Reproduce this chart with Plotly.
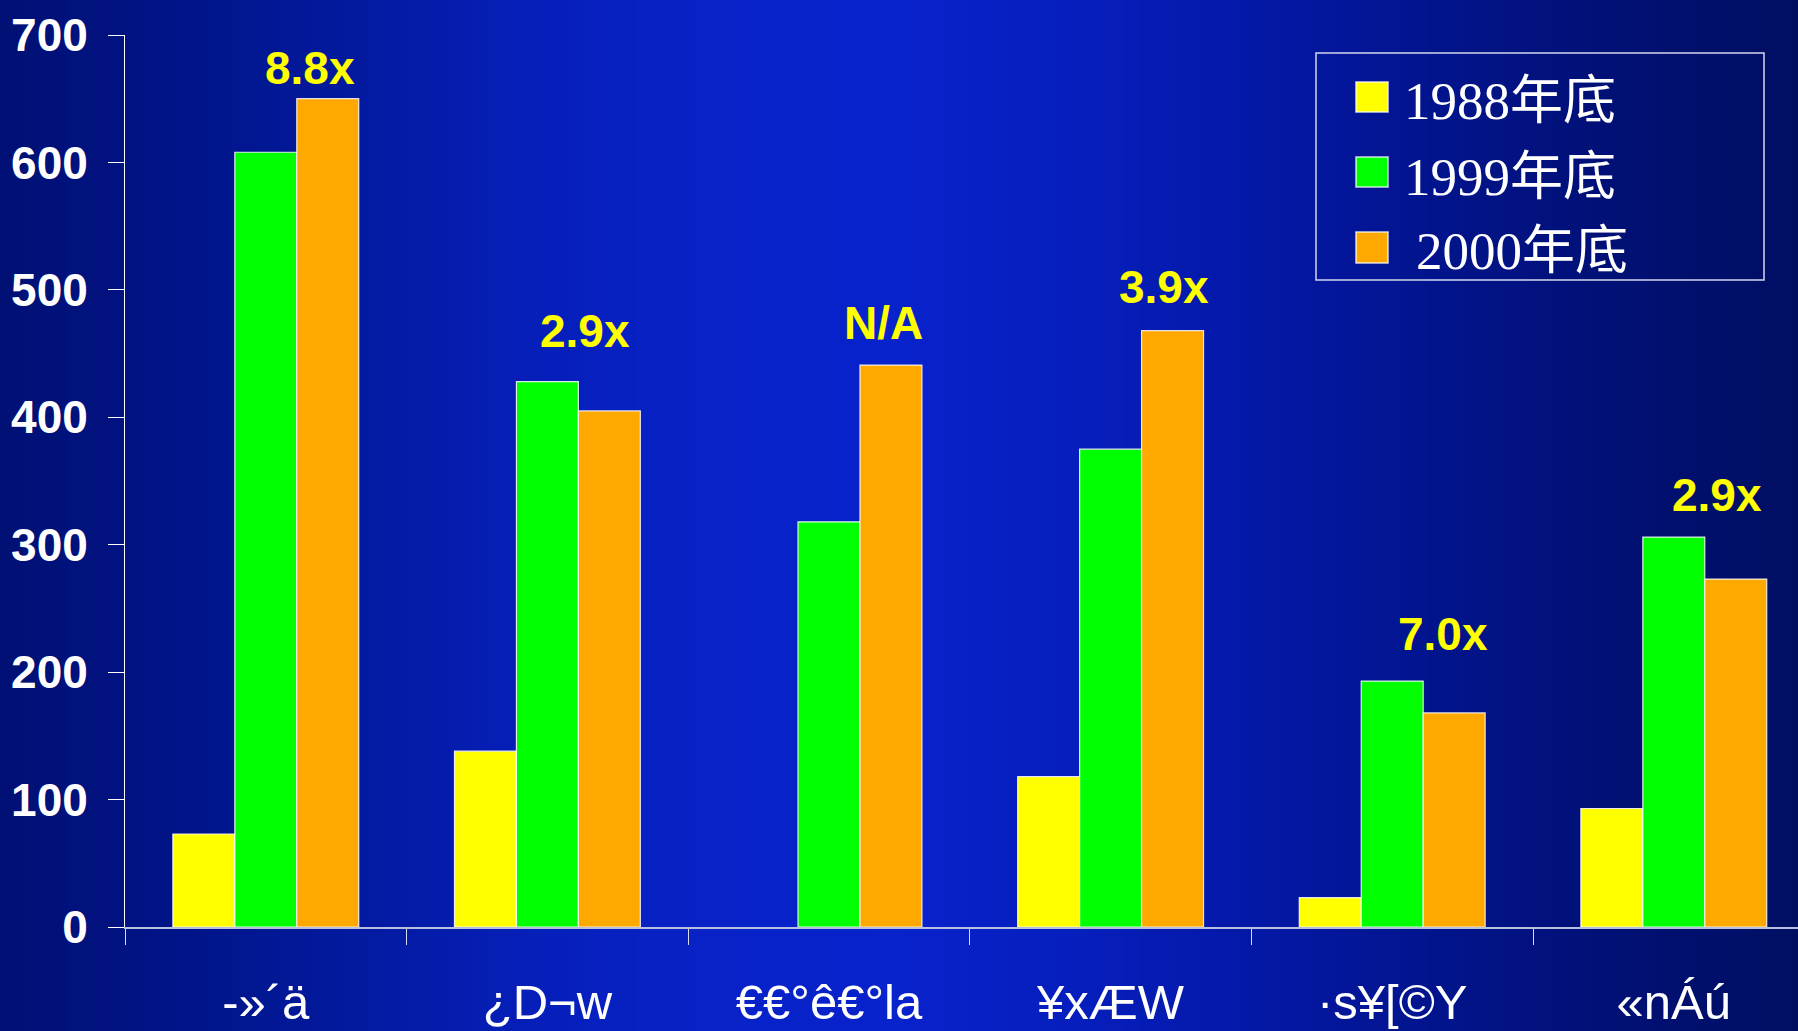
import base64
import struct
import zlib

import plotly.graph_objects as go

# ---------------- data ----------------
categories = ["-»´ä", "¿D¬w", "€€°ê€°la", "¥xÆW", "·s¥[©Y", "«nÁú"]
series_names = ["1988年底", "1999年底", "2000年底"]
values_1988 = [73, 138, None, 118, 23, 93]
values_1999 = [608, 428, 318, 375, 193, 306]
values_2000 = [650, 405, 441, 468, 168, 273]
growth_labels = ["8.8x", "2.9x", "N/A", "3.9x", "7.0x", "2.9x"]
y_tick_values = [0, 100, 200, 300, 400, 500, 600, 700]

# ---------------- style / layout ----------------
series_colors = ["#FFFF00", "#00FF00", "#FFA800"]
label_x_offsets = [0.157, 0.133, 0.195, 0.190, 0.180, 0.153]
label_y_positions = [674, 468, 474, 502, 230, 339]

W, H = 1798, 1031
ML, MR, MT, MB = 125, 0, 35, 104
PW, PH = W - ML - MR, H - MT - MB


def px_x(px):
    return (px - ML) / PW


def px_y(py):
    return (H - MB - py) / PH


# horizontal background gradient as a tiny PNG
grad_stops = [
    (0.00, (0, 16, 116)),
    (0.10, (1, 20, 136)),
    (0.20, (3, 26, 160)),
    (0.30, (6, 31, 186)),
    (0.40, (8, 34, 200)),
    (0.50, (8, 34, 204)),
    (0.60, (6, 30, 188)),
    (0.70, (4, 24, 166)),
    (0.80, (2, 20, 140)),
    (0.90, (1, 16, 116)),
    (1.00, (0, 14, 98)),
]


def grad_color(t):
    for (t0, c0), (t1, c1) in zip(grad_stops[:-1], grad_stops[1:]):
        if t0 <= t <= t1:
            f = (t - t0) / (t1 - t0)
            return tuple(int(round(a + (b - a) * f)) for a, b in zip(c0, c1))
    return grad_stops[-1][1]


def make_png(width):
    row = bytearray([0])
    for i in range(width):
        row.extend(grad_color(i / (width - 1)))
    raw = bytes(row)

    def chunk(tag, data):
        c = struct.pack(">I", len(data)) + tag + data
        return c + struct.pack(">I", zlib.crc32(tag + data) & 0xFFFFFFFF)

    png = b"\x89PNG\r\n\x1a\n"
    png += chunk(b"IHDR", struct.pack(">IIBBBBB", width, 1, 8, 2, 0, 0, 0))
    png += chunk(b"IDAT", zlib.compress(raw, 9))
    png += chunk(b"IEND", b"")
    return "data:image/png;base64," + base64.b64encode(png).decode()


bg_src = make_png(W)

fig = go.Figure()
for name, vals, col in zip(series_names, [values_1988, values_1999, values_2000], series_colors):
    fig.add_trace(
        go.Bar(
            x=categories,
            y=vals,
            name=name,
            marker=dict(color=col, line=dict(color="rgba(255,255,255,0.85)", width=1.2)),
            showlegend=False,
        )
    )

annotations = []
for i, (txt, dx, yv) in enumerate(zip(growth_labels, label_x_offsets, label_y_positions)):
    annotations.append(
        dict(
            x=i + dx,
            y=yv,
            xref="x",
            yref="y",
            text=txt,
            showarrow=False,
            xanchor="center",
            yanchor="middle",
            font=dict(family="Liberation Sans, Arial, sans-serif", size=46, color="#FFFF00", weight="bold"),
        )
    )

# custom legend
shapes = [
    dict(
        type="rect",
        xref="paper",
        yref="paper",
        x0=px_x(1316),
        x1=px_x(1764),
        y0=px_y(280),
        y1=px_y(53),
        line=dict(color="#d4d8ee", width=1.5),
        fillcolor="rgba(0,0,0,0)",
        layer="above",
    )
]
legend_rows = [(82, 112), (157, 187), (232, 263)]
legend_text_y = [101, 177, 251]
legend_text_x = [1402, 1402, 1414]
for (y0, y1), ty, tx, name, col in zip(legend_rows, legend_text_y, legend_text_x, series_names, series_colors):
    shapes.append(
        dict(
            type="rect",
            xref="paper",
            yref="paper",
            x0=px_x(1356),
            x1=px_x(1388),
            y0=px_y(y1),
            y1=px_y(y0),
            fillcolor=col,
            line=dict(color="rgba(255,255,255,0.8)", width=1.5),
            layer="above",
        )
    )
    annotations.append(
        dict(
            x=px_x(tx),
            y=px_y(ty),
            xref="paper",
            yref="paper",
            text=name,
            showarrow=False,
            xanchor="left",
            yanchor="middle",
            font=dict(family="Liberation Serif, Noto Sans CJK TC, serif", size=53, color="white"),
        )
    )

fig.update_layout(
    width=W,
    height=H,
    margin=dict(l=ML, r=MR, t=MT, b=MB, pad=0, autoexpand=False),
    paper_bgcolor="#02128a",
    plot_bgcolor="rgba(0,0,0,0)",
    barmode="group",
    bargap=0.34,
    bargroupgap=0,
    showlegend=False,
    annotations=annotations,
    shapes=shapes,
    images=[
        dict(
            source=bg_src,
            xref="paper",
            yref="paper",
            x=-ML / PW,
            y=1 + MT / PH,
            sizex=W / PW,
            sizey=H / PH,
            xanchor="left",
            yanchor="top",
            sizing="stretch",
            layer="below",
        )
    ],
)

fig.update_xaxes(
    type="category",
    automargin=False,
    range=[-0.5, -0.5 + PW / 281.6],
    showgrid=False,
    zeroline=False,
    showline=True,
    linecolor="#b8c0e0",
    linewidth=2,
    ticks="outside",
    tickson="boundaries",
    ticklen=16,
    tickcolor="#d8dcf0",
    tickwidth=1,
    ticklabelstandoff=31,
    tickfont=dict(family="Liberation Sans, Arial, sans-serif", size=49, color="white"),
)
fig.update_yaxes(
    automargin=False,
    range=[0, 700],
    tickvals=y_tick_values,
    showgrid=False,
    zeroline=False,
    showline=True,
    linecolor="white",
    linewidth=1,
    ticks="outside",
    ticklen=16,
    tickcolor="white",
    tickwidth=1,
    ticklabelstandoff=11,
    tickfont=dict(family="Liberation Sans, Arial, sans-serif", size=46, color="white", weight="bold"),
)

fig.write_html("out.html", config={"displayModeBar": False})
